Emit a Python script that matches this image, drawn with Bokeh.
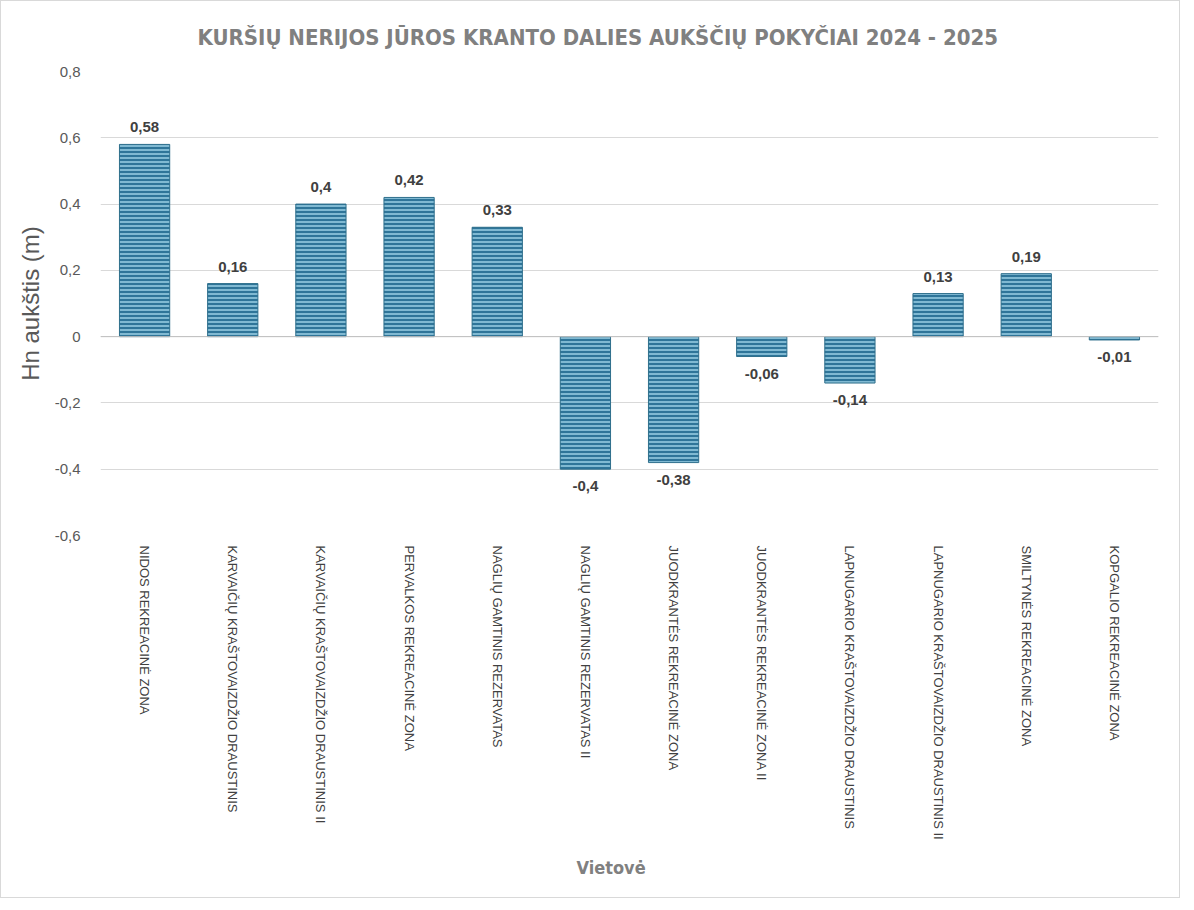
from bokeh.plotting import figure
from bokeh.models import ColumnDataSource, FactorRange, Range1d, FixedTicker, CustomJSTickFormatter, Span, LabelSet, Title
from bokeh.core.properties import value
from bokeh.embed import file_html
from bokeh.resources import INLINE

categories = [
    "NIDOS REKREACINĖ ZONA",
    "KARVAIČIŲ KRAŠTOVAIZDŽIO DRAUSTINIS",
    "KARVAIČIŲ KRAŠTOVAIZDŽIO DRAUSTINIS II",
    "PERVALKOS REKREACINĖ ZONA",
    "NAGLIŲ GAMTINIS REZERVATAS",
    "NAGLIŲ GAMTINIS REZERVATAS II",
    "JUODKRANTĖS REKREACINĖ ZONA",
    "JUODKRANTĖS REKREACINĖ ZONA II",
    "LAPNUGARIO KRAŠTOVAIZDŽIO DRAUSTINIS",
    "LAPNUGARIO KRAŠTOVAIZDŽIO DRAUSTINIS II",
    "SMILTYNĖS REKREACINĖ ZONA",
    "KOPGALIO REKREACINĖ ZONA",
]
values = [0.58, 0.16, 0.4, 0.42, 0.33, -0.4, -0.38, -0.06, -0.14, 0.13, 0.19, -0.01]
y_ticks = [-0.6, -0.4, -0.2, 0, 0.2, 0.4, 0.6, 0.8]

labels = [str(v).replace(".", ",") for v in values]
src_pos = ColumnDataSource(dict(
    x=[c for c, v in zip(categories, values) if v >= 0],
    y=[v for v in values if v >= 0],
    t=[l for l, v in zip(labels, values) if v >= 0]))
src_neg = ColumnDataSource(dict(
    x=[c for c, v in zip(categories, values) if v < 0],
    y=[v for v in values if v < 0],
    t=[l for l, v in zip(labels, values) if v < 0]))
src = ColumnDataSource(dict(x=categories, top=values))

p = figure(x_range=FactorRange(*categories), y_range=Range1d(-0.6, 0.8),
           width=1180, height=898, output_backend="svg", toolbar_location=None,
           title="KURŠIŲ NERIJOS JŪROS KRANTO DALIES AUKŠČIŲ POKYČIAI 2024 - 2025")
p.styles = {"border": "1px solid #d9d9d9"}
p.min_border_left = 99
p.min_border_right = 23
p.min_border_top = 70
p.min_border_bottom = 364

p.title.align = "left"
p.title.offset = 97
p.title.vertical_align = "middle"
p.title.text_font = "DejaVu Sans Condensed"
p.title.text_font_style = "bold"
p.title.text_font_size = "22px"
p.title.text_color = "#808080"
p.title.standoff = 42

p.vbar(x="x", top="top", bottom=0, width=0.57, source=src,
       fill_color="#80b9d2", line_color="#2f6f8c", line_width=1,
       hatch_pattern="horizontal_line", hatch_color="#2f7599",
       hatch_scale=4, hatch_weight=2)

p.add_layout(Span(location=0, dimension="width", line_color="#bfbfbf", line_width=1))

lab_style = dict(text_font=value("Liberation Sans"), text_font_style="bold",
                 text_font_size="15px", text_color="#404040", text_align="center")
p.add_layout(LabelSet(x="x", y="y", text="t", source=src_pos, y_offset=12,
                      text_baseline="bottom", **lab_style))
p.add_layout(LabelSet(x="x", y="y", text="t", source=src_neg, y_offset=-12,
                      text_baseline="top", **lab_style))

p.outline_line_color = None
p.xgrid.grid_line_color = None
p.ygrid.grid_line_color = "#d9d9d9"
p.ygrid.grid_line_width = 1

p.yaxis.ticker = FixedTicker(ticks=y_ticks)
p.yaxis.formatter = CustomJSTickFormatter(code="""
if (Math.abs(tick) < 1e-9) return "0";
return tick.toFixed(1).replace(".", ",");
""")
p.yaxis.axis_line_color = None
p.yaxis.major_tick_line_color = None
p.yaxis.minor_tick_line_color = None
p.yaxis.major_label_text_font = "Liberation Sans"
p.yaxis.major_label_text_font_size = "15px"
p.yaxis.major_label_text_color = "#595959"
p.yaxis.major_label_standoff = 14
p.yaxis.axis_label = "Hn aukštis (m)"
p.yaxis.axis_label_text_font = "Liberation Sans"
p.yaxis.axis_label_text_font_style = "normal"
p.yaxis.axis_label_text_font_size = "24px"
p.yaxis.axis_label_text_color = "#595959"
p.yaxis.axis_label_standoff = 8

p.xaxis.axis_line_color = None
p.xaxis.major_tick_line_color = None
p.xaxis.minor_tick_line_color = None
p.xaxis.major_label_orientation = "vertical"
p.xaxis.major_label_text_font = "Liberation Sans"
p.xaxis.major_label_text_font_size = "13px"
p.xaxis.major_label_text_color = "#404040"
p.xaxis.major_label_standoff = 4

p.add_layout(Title(text="Vietovė", align="left", offset=476, standoff=24,
                   text_font="DejaVu Sans Condensed", text_font_style="bold",
                   text_font_size="18px", text_color="#808080"), "below")

open("out.html", "w").write(file_html(p, INLINE))
